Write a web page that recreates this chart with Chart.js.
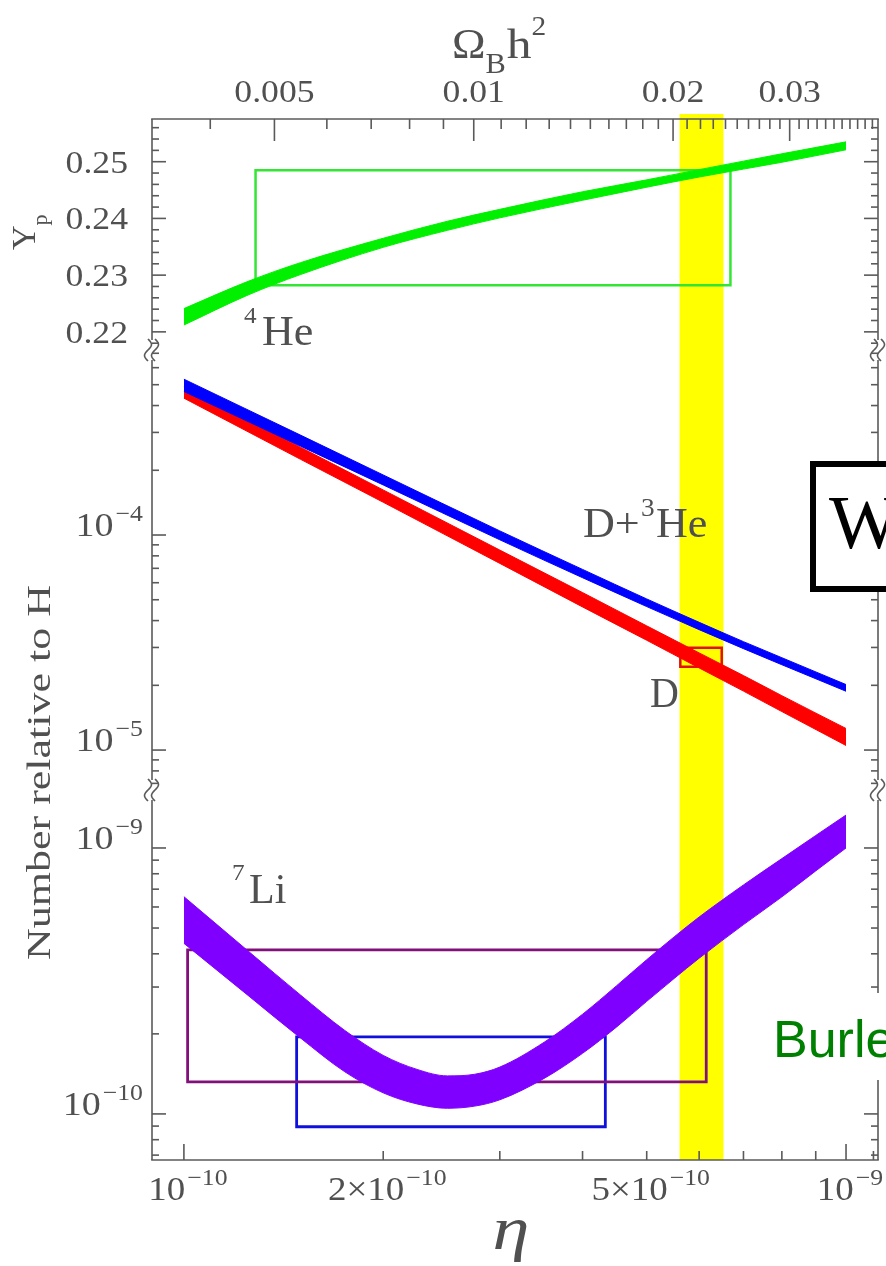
<!DOCTYPE html>
<html>
<head>
<meta charset="utf-8">
<title>Big Bang nucleosynthesis abundances</title>
<script src="https://cdn.jsdelivr.net/npm/chart.js@4.4.1/dist/chart.umd.min.js"></script>
<style>
  html, body { margin: 0; padding: 0; background: #ffffff; }
  canvas { display: block; }
</style>
</head>
<body>
<canvas id="bbn" width="886" height="1266"></canvas>
<script>
// ---- axis ranges ----
const ETA_MIN = 0.895e-10, ETA_MAX = 1.1176e-9;   // baryon-to-photon ratio
const ETA_PER_OMEGA = 2.74e-8;                     // eta = 274e-10 * Omega_B h^2
const YP_MIN = 0.2168, YP_MAX = 0.25753;           // 4He mass fraction panel
const D_MIN = 6.52e-6, D_MAX = 7.25e-4;            // D and D+3He panel
const LI_MIN = 6.71e-11, LI_MAX = 1.652e-9;        // 7Li panel

// ---- tick labels ----
const ypTicks = [0.22, 0.23, 0.24, 0.25];
const dTicks = [1e-5, 1e-4];
const dTickExp = ['\u22125', '\u22124'];
const liTicks = [1e-10, 1e-9];
const liTickExp = ['\u221210', '\u22129'];
const etaTicks = [1e-10, 2e-10, 5e-10, 1e-9];
const etaTickMant = ['10', '2\u00d710', '5\u00d710', '10'];
const etaTickExp = ['\u221210', '\u221210', '\u221210', '\u22129'];
const omegaTicks = [0.005, 0.01, 0.02, 0.03];
const omegaTickLabels = ['0.005', '0.01', '0.02', '0.03'];

// ---- 4He mass fraction band ----
const heEta   = [1.0e-10, 1.25e-10, 1.5e-10, 2.0e-10, 2.5e-10, 3.0e-10, 4.0e-10, 5.0e-10, 6.0e-10, 7.0e-10, 8.0e-10, 1.0e-9];
const heUpper = [0.2241, 0.2289, 0.2322, 0.2365, 0.2395, 0.2416, 0.2447, 0.2468, 0.2486, 0.2501, 0.2514, 0.2535];
const heLower = [0.2212, 0.2265, 0.2301, 0.2349, 0.2379, 0.2401, 0.2432, 0.2455, 0.2473, 0.2487, 0.2499, 0.2521];

// ---- D/H and (D+3He)/H bands ----
const dEta    = [1.0e-10, 1.5e-10, 2.0e-10, 3.0e-10, 4.0e-10, 5.0e-10, 6.0e-10, 7.0e-10, 8.0e-10, 1.0e-9];
const dUpper  = [4.88e-4, 2.56e-4, 1.62e-4, 8.51e-5, 5.40e-5, 3.78e-5, 2.83e-5, 2.22e-5, 1.79e-5, 1.26e-5];
const dLower  = [4.33e-4, 2.25e-4, 1.42e-4, 7.38e-5, 4.63e-5, 3.24e-5, 2.41e-5, 1.88e-5, 1.51e-5, 1.05e-5];
const d3Upper = [5.305e-4, 2.914e-4, 1.902e-4, 1.045e-4, 6.92e-5, 5.044e-5, 3.927e-5, 3.193e-5, 2.688e-5, 2.016e-5];
const d3Lower = [4.648e-4, 2.590e-4, 1.709e-4, 9.50e-5, 6.33e-5, 4.647e-5, 3.630e-5, 2.962e-5, 2.493e-5, 1.877e-5];

// ---- 7Li/H band ----
const liEta   = [1.0e-10, 1.25e-10, 1.5e-10, 1.75e-10, 2.0e-10, 2.25e-10, 2.5e-10, 2.75e-10, 3.0e-10, 3.5e-10,
                 4.0e-10, 4.5e-10, 5.0e-10, 5.5e-10, 6.0e-10, 7.0e-10, 8.0e-10, 9.0e-10, 1.0e-9];
const liUpper = [6.56e-10, 4.10e-10, 2.80e-10, 2.06e-10, 1.66e-10, 1.47e-10, 1.39e-10, 1.41e-10, 1.50e-10, 1.86e-10,
                 2.37e-10, 3.03e-10, 3.80e-10, 4.63e-10, 5.50e-10, 7.26e-10, 9.12e-10, 1.114e-9, 1.33e-9];
const liLower = [4.38e-10, 2.79e-10, 1.93e-10, 1.44e-10, 1.20e-10, 1.09e-10, 1.05e-10, 1.07e-10, 1.13e-10, 1.36e-10,
                 1.69e-10, 2.12e-10, 2.65e-10, 3.23e-10, 3.85e-10, 5.15e-10, 6.55e-10, 8.20e-10, 1.00e-9];

// ---- observational boxes (eta range, abundance range) ----
const heBoxEta  = [1.283e-10, 6.69e-10];
const heBoxYp   = [0.2282, 0.2485];
const dBoxEta   = [5.62e-10, 6.49e-10];
const dBoxVal   = [2.44e-5, 2.99e-5];
const liBoxAEta = [1.013e-10, 6.15e-10];
const liBoxAVal = [1.32e-10, 4.14e-10];
const liBoxBEta = [1.48e-10, 4.33e-10];
const liBoxBVal = [8.95e-11, 1.95e-10];
const wmapEta   = [5.605e-10, 6.53e-10];

// ---- helpers ----
const pts = (xs, ys) => xs.map((x, i) => ({ x: x, y: ys[i] }));
const rect = (xs, ys) => [
  { x: xs[0], y: ys[0] }, { x: xs[1], y: ys[0] }, { x: xs[1], y: ys[1] },
  { x: xs[0], y: ys[1] }, { x: xs[0], y: ys[0] }, { x: xs[1], y: ys[0] }
];

const SERIF = '"Liberation Serif", "Times New Roman", serif';
const SANS = '"Liberation Sans", Arial, sans-serif';
const INK = '#505050';
const FRAME = '#5a5a5a';

function txt(ctx, s, x, y, size, o) {
  o = o || {};
  const sx = o.sx || 1.12;
  ctx.save();
  ctx.font = (o.italic ? 'italic ' : '') + size + 'px ' + (o.family || SERIF);
  const w = ctx.measureText(s).width * sx;
  let x0 = x;
  if (o.align === 'right') x0 = x - w;
  else if (o.align === 'center') x0 = x - w / 2;
  ctx.translate(x0, y);
  ctx.scale(sx, 1);
  ctx.fillStyle = o.color || INK;
  ctx.textAlign = 'left';
  ctx.textBaseline = 'alphabetic';
  ctx.fillText(s, 0, 0);
  ctx.restore();
  return w;
}

// mantissa with raised exponent, aligned as a group
function expLabel(ctx, mant, exp, x, y, align, big, small, rise) {
  const sx = 1.12;
  ctx.save();
  ctx.font = big + 'px ' + SERIF;
  const w1 = ctx.measureText(mant).width * sx;
  ctx.font = small + 'px ' + SERIF;
  const w2 = ctx.measureText(exp).width * sx;
  ctx.restore();
  const gap = 2;
  const tot = w1 + gap + w2;
  let x0 = align === 'right' ? x - tot : align === 'center' ? x - tot / 2 : x;
  txt(ctx, mant, x0, y, big, { sx: sx });
  txt(ctx, exp, x0 + w1 + gap, y - rise, small, { sx: sx });
}

const decor = {
  id: 'decor',
  beforeDatasetsDraw(chart) {
    const { ctx, chartArea: a, scales: { x } } = chart;
    const x0 = x.getPixelForValue(wmapEta[0]);
    const x1 = x.getPixelForValue(wmapEta[1]);
    ctx.save();
    ctx.fillStyle = '#ffff00';
    ctx.fillRect(x0, a.top - 5, x1 - x0, a.bottom - a.top + 5);
    ctx.restore();
  },
  afterDraw(chart) {
    const { ctx, chartArea: a, scales } = chart;
    const x = scales.x, xt = scales.xTop, yHe = scales.yHe, yD = scales.yD, yLi = scales.yLi;

    ctx.save();
    ctx.strokeStyle = FRAME;
    ctx.lineWidth = 1.6;
    ctx.lineCap = 'butt';
    const seg = (x0, y0, x1, y1) => { ctx.beginPath(); ctx.moveTo(x0, y0); ctx.lineTo(x1, y1); ctx.stroke(); };

    // frame with axis breaks between panels
    const breaks = [yHe.bottom, yLi.top];
    seg(a.left - 0.8, a.top, a.right + 0.8, a.top);
    seg(a.left - 0.8, a.bottom, a.right + 0.8, a.bottom);
    [a.left, a.right].forEach(ax => {
      seg(ax, a.top, ax, breaks[0] - 10);
      seg(ax, breaks[0] + 10, ax, breaks[1] - 10);
      seg(ax, breaks[1] + 10, ax, a.bottom);
      breaks.forEach(b => {
        [-4, 3].forEach(dx => {
          ctx.beginPath();
          for (let i = 0; i <= 20; i++) {
            const t = i / 20;
            const px = ax + dx + 3.5 * Math.sin(t * 2 * Math.PI);
            const py = b - 11 + 22 * t;
            if (i === 0) ctx.moveTo(px, py); else ctx.lineTo(px, py);
          }
          ctx.stroke();
        });
      });
    });

    // left / right ticks
    const yTick = (scale, v, len) => {
      const py = scale.getPixelForValue(v);
      if (py < scale.top + 2 || py > scale.bottom - 2) return;
      seg(a.left, py, a.left + len, py);
      seg(a.right - len, py, a.right, py);
    };
    for (let k = 0; k <= 20; k++) {
      const v = (216 + 2 * k) / 1000;
      const major = ypTicks.some(t => Math.abs(t - v) < 1e-6);
      yTick(yHe, v, major ? 14 : 7);
    }
    [[yD, [-6, -5, -4, -3]], [yLi, [-11, -10, -9]]].forEach(([sc, decs]) => {
      decs.forEach(e => {
        for (let m = 1; m <= 9; m++) yTick(sc, m * Math.pow(10, e), m === 1 ? 14 : 7);
      });
    });

    // bottom ticks (eta)
    for (let m = 1; m <= 11; m++) {
      const px = x.getPixelForValue(m * 1e-10);
      if (px < a.left + 1 || px > a.right - 1) continue;
      seg(px, a.bottom, px, a.bottom - (m === 1 || m === 10 ? 16 : 9));
    }
    // top ticks (Omega_B h^2)
    for (let k = 3; k <= 45; k++) {
      const v = k / 1000;
      const px = xt.getPixelForValue(v);
      if (px < a.left + 1 || px > a.right - 1) continue;
      const major = omegaTicks.some(t => Math.abs(t - v) < 1e-9);
      seg(px, a.top, px, a.top + (major ? 22 : 10));
    }
    ctx.restore();

    // tick labels
    ypTicks.forEach(v => {
      const py = yHe.getPixelForValue(v);
      txt(ctx, v.toFixed(2), 128, py + 11, 31, { align: 'right', sx: 1.15 });
    });
    dTicks.forEach((v, i) => {
      const py = yD.getPixelForValue(v);
      expLabel(ctx, '10', dTickExp[i], 143, py + 1, 'right', 34, 23, 15);
    });
    liTicks.forEach((v, i) => {
      const py = yLi.getPixelForValue(v);
      expLabel(ctx, '10', liTickExp[i], 143, py + 1, 'right', 34, 23, 15);
    });
    etaTicks.forEach((v, i) => {
      const px = x.getPixelForValue(v);
      expLabel(ctx, etaTickMant[i], etaTickExp[i], px + 4, a.bottom + 40, 'center', 33, 23, 15);
    });
    omegaTicks.forEach((v, i) => {
      const px = xt.getPixelForValue(v);
      txt(ctx, omegaTickLabels[i], px, a.top - 17, 31, { align: 'center', sx: 1.15 });
    });

    // axis titles
    txt(ctx, '\u03b7', 511, 1249, 62, { italic: true, align: 'center', sx: 1.2 });
    // Omega_B h^2
    let cx = 452;
    cx += txt(ctx, '\u03a9', cx, 58, 43, { sx: 1.05 });
    cx += txt(ctx, 'B', cx, 73, 29, { sx: 1.05 });
    cx += txt(ctx, 'h', cx + 1, 58, 43, { sx: 1.15 }) + 1;
    txt(ctx, '2', cx, 35, 28, { sx: 1.05 });

    ctx.save();
    ctx.translate(35, 250);
    ctx.rotate(-Math.PI / 2);
    const wY = txt(ctx, 'Y', 0, 0, 34, { sx: 1.0 });
    txt(ctx, 'p', wY, 12, 22, { sx: 1.0 });
    ctx.restore();

    ctx.save();
    ctx.translate(50, 960);
    ctx.rotate(-Math.PI / 2);
    ctx.font = '34px ' + SERIF;
    const nw = ctx.measureText('Number relative to H').width;
    txt(ctx, 'Number relative to H', 0, 0, 34, { sx: 375 / nw });
    ctx.restore();

    // curve labels
    txt(ctx, '4', 244, 323, 24, { sx: 1.05 });
    txt(ctx, 'He', 262, 345, 42, { sx: 1.05 });
    txt(ctx, 'D+', 583, 537, 42, { sx: 1.05 });
    txt(ctx, '3', 641, 516, 26, { sx: 1.05 });
    txt(ctx, 'He', 656, 537, 42, { sx: 1.05 });
    txt(ctx, 'D', 650, 707, 42, { sx: 0.95 });
    txt(ctx, '7', 232, 880, 24, { sx: 1.05 });
    txt(ctx, 'Li', 249, 903, 42, { sx: 1.0 });

    // boxed slide caption at the right edge
    ctx.save();
    ctx.fillStyle = '#ffffff';
    ctx.fillRect(810, 461, 90, 131);
    ctx.strokeStyle = '#000000';
    ctx.lineWidth = 6;
    ctx.strokeRect(813, 464, 100, 125);
    ctx.restore();
    txt(ctx, 'W', 829, 548, 76, { sx: 1.0, color: '#000000' });

    ctx.save();
    ctx.fillStyle = '#ffffff';
    ctx.fillRect(765, 993, 121, 87);
    ctx.restore();
    txt(ctx, 'Burle', 773, 1057, 52, { family: SANS, sx: 1.0, color: '#008000' });
  }
};

const bandStyle = (color, order) => ({
  borderColor: color, backgroundColor: color, borderWidth: 1,
  pointRadius: 0, cubicInterpolationMode: 'monotone', order: order
});
const boxStyle = (color, width) => ({
  borderColor: color, borderWidth: width, pointRadius: 0, tension: 0,
  fill: false, borderJoinStyle: 'miter', order: 5
});

new Chart(document.getElementById('bbn'), {
  type: 'line',
  data: {
    datasets: [
      Object.assign({ label: 'D+3He upper', data: pts(dEta, d3Upper), yAxisID: 'yD', fill: '+1' }, bandStyle('#0000ff', 1)),
      Object.assign({ label: 'D+3He lower', data: pts(dEta, d3Lower), yAxisID: 'yD', fill: false }, bandStyle('#0000ff', 1)),
      Object.assign({ label: 'D upper', data: pts(dEta, dUpper), yAxisID: 'yD', fill: '+1' }, bandStyle('#ff0000', 2)),
      Object.assign({ label: 'D lower', data: pts(dEta, dLower), yAxisID: 'yD', fill: false }, bandStyle('#ff0000', 2)),
      Object.assign({ label: '4He upper', data: pts(heEta, heUpper), yAxisID: 'yHe', fill: '+1' }, bandStyle('#00f000', 1)),
      Object.assign({ label: '4He lower', data: pts(heEta, heLower), yAxisID: 'yHe', fill: false }, bandStyle('#00f000', 1)),
      Object.assign({ label: '7Li upper', data: pts(liEta, liUpper), yAxisID: 'yLi', fill: '+1' }, bandStyle('#7f00ff', 1)),
      Object.assign({ label: '7Li lower', data: pts(liEta, liLower), yAxisID: 'yLi', fill: false }, bandStyle('#7f00ff', 1)),
      Object.assign({ label: 'He box', data: rect(heBoxEta, heBoxYp), yAxisID: 'yHe' }, boxStyle('#33e633', 2.5)),
      Object.assign({ label: 'D box', data: rect(dBoxEta, dBoxVal), yAxisID: 'yD' }, boxStyle('#e01010', 2.5)),
      Object.assign({ label: 'Li box A', data: rect(liBoxAEta, liBoxAVal), yAxisID: 'yLi' }, boxStyle('#82107a', 2.8)),
      Object.assign({ label: 'Li box B', data: rect(liBoxBEta, liBoxBVal), yAxisID: 'yLi' }, boxStyle('#1010dd', 2.8))
    ]
  },
  options: {
    responsive: false,
    animation: false,
    events: [],
    layout: { padding: { left: 152, right: 8, top: 119, bottom: 106 } },
    plugins: { legend: { display: false }, tooltip: { enabled: false } },
    scales: {
      x: { type: 'logarithmic', position: 'bottom', min: ETA_MIN, max: ETA_MAX, bounds: 'data', display: false },
      xTop: { type: 'logarithmic', position: 'top', min: ETA_MIN / ETA_PER_OMEGA, max: ETA_MAX / ETA_PER_OMEGA, bounds: 'data', display: false },
      yHe: { type: 'linear', position: 'left', stack: 'abundance', stackWeight: 231, weight: 3, min: YP_MIN, max: YP_MAX, bounds: 'data', display: false },
      yD: { type: 'logarithmic', position: 'left', stack: 'abundance', stackWeight: 440, weight: 2, min: D_MIN, max: D_MAX, bounds: 'data', display: false },
      yLi: { type: 'logarithmic', position: 'left', stack: 'abundance', stackWeight: 370, weight: 1, min: LI_MIN, max: LI_MAX, bounds: 'data', display: false }
    }
  },
  plugins: [decor]
});
</script>
</body>
</html>
